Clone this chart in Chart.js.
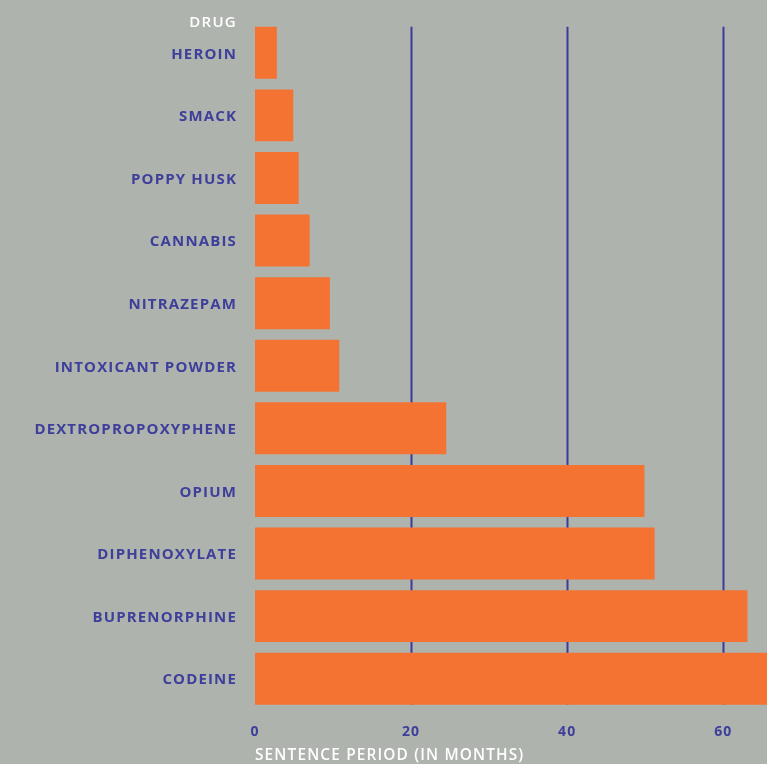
<!DOCTYPE html>
<html>
<head>
<meta charset="utf-8">
<script src="https://cdn.jsdelivr.net/npm/chart.js@4/dist/chart.umd.min.js"></script>
<style>
  html, body { margin: 0; padding: 0; background: #aeb3ae; }
  #wrap { width: 767px; height: 764px; position: relative; }
</style>
</head>
<body>
<div id="wrap"><canvas id="c" width="767" height="764"></canvas></div>
<script>
const categories = ["HEROIN","SMACK","POPPY HUSK","CANNABIS","NITRAZEPAM","INTOXICANT POWDER","DEXTROPROPOXYPHENE","OPIUM","DIPHENOXYLATE","BUPRENORPHINE","CODEINE"];
const sentenceMonths = [2.8, 4.9, 5.6, 7.0, 9.6, 10.8, 24.5, 49.9, 51.2, 63.1, 68];
const xTicks = [0, 20, 40, 60];
const yAxisTitle = "DRUG";
const xAxisTitle = "SENTENCE PERIOD (IN MONTHS)";

const BLUE = '#3e3f9b';
const ORANGE = '#f47332';
const FONT = '"Open Sans", "DejaVu Sans", sans-serif';
const SPACING = '1.15px';

const spacingPlugin = {
  id: 'spacing',
  beforeUpdate(chart) { chart.ctx.letterSpacing = SPACING; },
  beforeLayout(chart) { chart.ctx.letterSpacing = SPACING; },
  beforeDraw(chart) { chart.ctx.letterSpacing = SPACING; }
};

const gridPlugin = {
  id: 'customGrid',
  beforeDatasetsDraw(chart) {
    const meta = chart.getDatasetMeta(0);
    const first = meta.data[0], last = meta.data[meta.data.length - 1];
    const top = first.y - first.height / 2;
    const bottom = last.y + last.height / 2;
    const xs = chart.scales.x;
    const ctx = chart.ctx;
    ctx.save();
    ctx.strokeStyle = '#3b3c96';
    ctx.lineWidth = 2;
    xTicks.filter(v => v > 0).forEach(v => {
      const px = Math.round(xs.getPixelForValue(v)) + 0.5;
      ctx.beginPath();
      ctx.moveTo(px, top);
      ctx.lineTo(px, bottom);
      ctx.stroke();
    });
    ctx.restore();
  }
};

const yTitlePlugin = {
  id: 'yTitle',
  afterDraw(chart) {
    const ctx = chart.ctx;
    const ys = chart.scales.y;
    ctx.save();
    ctx.letterSpacing = '1.3px';
    ctx.font = '600 15px ' + FONT;
    ctx.fillStyle = '#ffffff';
    ctx.textAlign = 'right';
    ctx.textBaseline = 'middle';
    ctx.fillText(yAxisTitle, ys.right - 18, chart.chartArea.top + 1.5);
    ctx.restore();
  }
};

new Chart(document.getElementById('c'), {
  type: 'bar',
  data: {
    labels: categories,
    datasets: [{
      data: sentenceMonths,
      backgroundColor: ORANGE,
      borderWidth: 0,
      barPercentage: 0.83,
      categoryPercentage: 1
    }]
  },
  plugins: [spacingPlugin, gridPlugin, yTitlePlugin],
  options: {
    indexAxis: 'y',
    responsive: false,
    animation: false,
    layout: { padding: { top: 21.5, right: 0, left: 0, bottom: 0 } },
    plugins: { legend: { display: false }, tooltip: { enabled: false } },
    scales: {
      x: {
        type: 'linear',
        min: 0,
        max: 65.6,
        afterBuildTicks(axis) { axis.ticks = xTicks.map(v => ({ value: v })); },
        afterFit(axis) { axis.height = 54; axis.paddingLeft = 0; axis.paddingRight = 0; },
        grid: { display: false, drawTicks: false },
        border: { display: false },
        ticks: {
          color: BLUE,
          font: { family: FONT, size: 14, weight: '700' },
          padding: 14,
          maxRotation: 0
        },
        title: {
          display: true,
          text: xAxisTitle,
          align: 'start',
          color: '#ffffff',
          font: { family: FONT, size: 15.4, weight: '600', lineHeight: 1.1 },
          padding: { top: 0, bottom: 0 }
        }
      },
      y: {
        afterFit(axis) { axis.width = 255; axis.paddingTop = 0; axis.paddingBottom = 0; },
        grid: { display: false, drawTicks: false },
        border: { display: false },
        ticks: {
          color: BLUE,
          font: { family: FONT, size: 15, weight: '700', lineHeight: 1.05 },
          padding: 18,
          labelOffset: 1.5
        }
      }
    }
  }
});
</script>
</body>
</html>
